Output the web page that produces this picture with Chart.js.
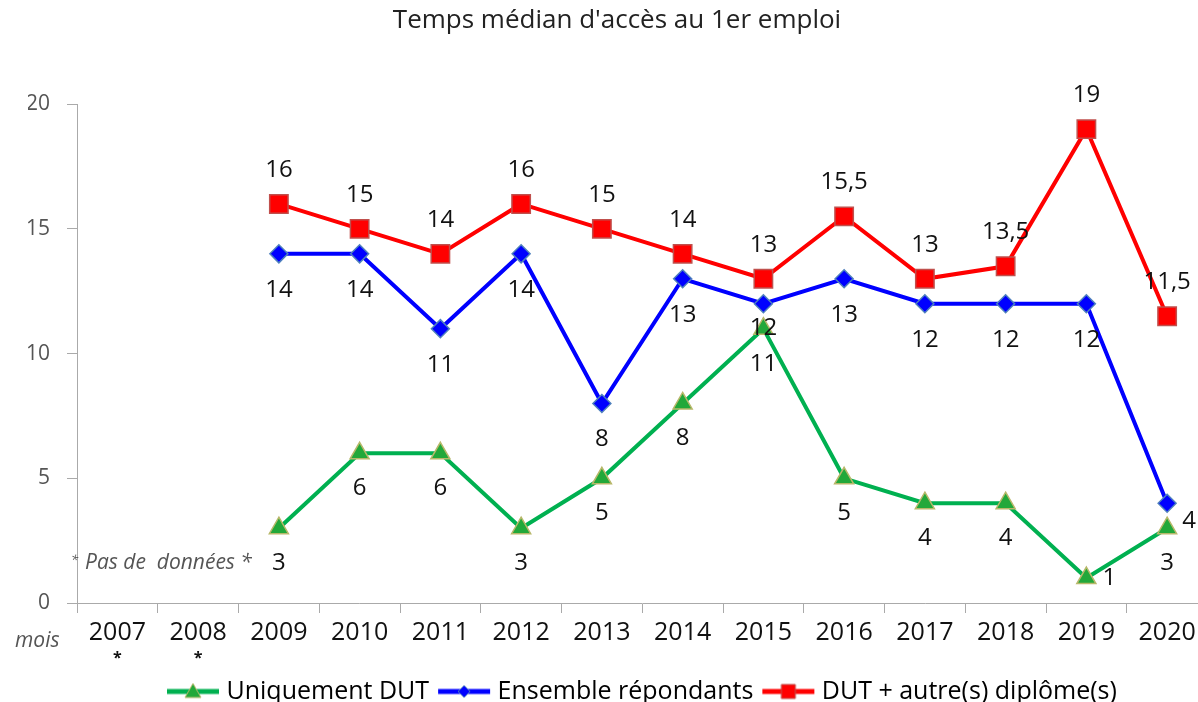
<!DOCTYPE html>
<html>
<head>
<meta charset="utf-8">
<script src="https://cdn.jsdelivr.net/npm/chart.js@4.4.0/dist/chart.umd.min.js"></script>
<style>
  html, body { margin: 0; padding: 0; background: #fff; overflow: hidden; }
  #wrap { width: 1198px; height: 702px; overflow: hidden; position: relative; }
  #chart { position: absolute; left: 0; top: 0; }
</style>
</head>
<body>
<div id="wrap"><canvas id="chart" width="1222" height="702"></canvas></div>
<script>
// data
const years = ['2007', '2008', '2009', '2010', '2011', '2012', '2013', '2014', '2015', '2016', '2017', '2018', '2019', '2020'];
const uniquementDut = [null, null, 3, 6, 6, 3, 5, 8, 11, 5, 4, 4, 1, 3];
const ensembleRepondants = [null, null, 14, 14, 11, 14, 8, 13, 12, 13, 12, 12, 12, 4];
const dutAutreDiplome = [null, null, 16, 15, 14, 16, 15, 14, 13, 15.5, 13, 13.5, 19, 11.5];
const noDataYears = ['2007', '2008'];
const yTicks = [0, 5, 10, 15, 20];

const FONT = "'Open Sans', 'DejaVu Sans', sans-serif";

// where each value label goes (offset from the point)
const labelOffsets = [
  { def: [0, 35], special: { 12: [23, 0] } },              // green
  { def: [0, 36], special: { 8: [0, 24], 13: [22, 18] } }, // blue
  { def: [0, -34], special: {} }                          // red
];

function fmt(v) {
  return String(v).replace('.', ',');
}

// little line+marker picture for the legend
function legendIcon(ds) {
  const c = document.createElement('canvas');
  c.width = 54; c.height = 22;
  const ctx = c.getContext('2d');
  ctx.strokeStyle = ds.borderColor;
  ctx.lineWidth = 5;
  ctx.beginPath();
  ctx.moveTo(1, 11); ctx.lineTo(53, 11);
  ctx.stroke();
  ctx.fillStyle = ds.pointBackgroundColor;
  ctx.strokeStyle = ds.pointBorderColor;
  ctx.lineWidth = 1;
  ctx.beginPath();
  if (ds.pointStyle === 'triangle') {
    ctx.moveTo(27, 3); ctx.lineTo(35, 17); ctx.lineTo(19, 17);
  } else if (ds.pointStyle === 'rectRot') {
    ctx.moveTo(27, 5); ctx.lineTo(33, 11); ctx.lineTo(27, 17); ctx.lineTo(21, 11);
  } else {
    ctx.rect(20, 4, 14, 14);
  }
  ctx.closePath();
  ctx.fill();
  ctx.stroke();
  return c;
}

const valueLabels = {
  id: 'valueLabels',
  afterDatasetsDraw(chart) {
    const ctx = chart.ctx;
    ctx.save();
    ctx.font = '24px ' + FONT;
    ctx.fillStyle = '#111';
    ctx.textAlign = 'center';
    ctx.textBaseline = 'middle';
    chart.data.datasets.forEach((ds, i) => {
      const meta = chart.getDatasetMeta(i);
      meta.data.forEach((pt, j) => {
        const v = ds.data[j];
        if (v === null || v === undefined) return;
        const off = labelOffsets[i].special[j] || labelOffsets[i].def;
        ctx.fillText(fmt(v), pt.x + off[0], pt.y + off[1]);
      });
    });
    ctx.restore();
  }
};

const extraText = {
  id: 'extraText',
  afterLayout(chart) {
    // legend sits a bit right of centre and lower in the original
    const lg = chart.legend;
    const shift = 165 - (lg.left + (lg.width - lg.lineWidths[0]) / 2);
    lg.left += shift;
    lg.right += shift;
    lg.top += 12;
    lg.bottom += 12;
    // title centred on the visible part
    chart.titleBlock.left -= 7;
    chart.titleBlock.right -= 7;
  },
  afterDraw(chart) {
    const ctx = chart.ctx;
    const x = chart.scales.x;
    ctx.save();
    ctx.fillStyle = '#555';
    ctx.textBaseline = 'middle';
    ctx.textAlign = 'left';
    ctx.font = 'italic 21px ' + FONT;
    ctx.fillText('mois', 15, 641);
    ctx.font = 'italic 13px ' + FONT;
    ctx.fillText('*', 71, 560);
    ctx.font = 'italic 21px ' + FONT;
    ctx.fillText('Pas de  données *', 85, 563);
    // stars under the years with no data
    ctx.fillStyle = '#111';
    ctx.textAlign = 'center';
    ctx.font = 'bold 16px ' + FONT;
    noDataYears.forEach(y => {
      ctx.fillText('*', x.getPixelForValue(years.indexOf(y)), x.top + 55);
    });
    ctx.restore();
  }
};

const datasets = [
  {
    label: 'Uniquement DUT',
    data: uniquementDut,
    borderColor: '#00b050',
    borderWidth: 4,
    pointStyle: 'triangle',
    pointRadius: 11,
    pointBackgroundColor: '#22a83a',
    pointBorderColor: '#b8b86a',
    pointBorderWidth: 1.5
  },
  {
    label: 'Ensemble répondants',
    data: ensembleRepondants,
    borderColor: '#0000ff',
    borderWidth: 4,
    pointStyle: 'rectRot',
    pointRadius: 9,
    pointBackgroundColor: '#0000ff',
    pointBorderColor: '#4f81bd',
    pointBorderWidth: 1.5
  },
  {
    label: 'DUT + autre(s) diplôme(s)',
    data: dutAutreDiplome,
    borderColor: '#ff0000',
    borderWidth: 4,
    pointStyle: 'rect',
    pointRadius: 13,
    pointBackgroundColor: '#ff0000',
    pointBorderColor: '#c0504d',
    pointBorderWidth: 1.5
  }
];

new Chart(document.getElementById('chart'), {
  type: 'line',
  data: { labels: years, datasets: datasets },
  plugins: [valueLabels, extraText],
  options: {
    responsive: false,
    animation: false,
    layout: { padding: { left: 28, right: 2, top: 0, bottom: 0 } },
    plugins: {
      tooltip: { enabled: false },
      title: {
        display: true,
        text: "Temps médian d'accès au 1er emploi",
        color: '#222',
        font: { family: FONT, size: 26, weight: 'normal' },
        padding: { top: 5, bottom: 68 }
      },
      legend: {
        position: 'bottom',
        labels: {
          usePointStyle: true,
          pointStyleWidth: 42,
          padding: 14,
          color: '#333',
          font: { family: FONT, size: 25 },
          generateLabels(chart) {
            return chart.data.datasets.map((ds, i) => ({
              text: ds.label,
              pointStyle: legendIcon(ds),
              fillStyle: ds.borderColor,
              strokeStyle: ds.borderColor,
              lineWidth: 0,
              hidden: false,
              datasetIndex: i
            }));
          }
        }
      }
    },
    scales: {
      x: {
        offset: true,
        grid: { offset: true, drawOnChartArea: false, tickLength: 10, color: '#aaa' },
        border: { color: '#aaa' },
        ticks: { color: '#111', font: { family: FONT, size: 25 }, padding: 5, maxRotation: 0, autoSkip: false },
        afterFit(scale) { scale.height = 50; }
      },
      y: {
        min: 0,
        max: 20,
        afterBuildTicks(scale) { scale.ticks = yTicks.map(v => ({ value: v })); },
        grid: { drawOnChartArea: false, tickLength: 10, color: '#aaa' },
        border: { color: '#aaa' },
        ticks: { color: '#555', font: { family: FONT, size: 21 }, padding: 17 },
        afterFit(scale) { scale.width = 49; }
      }
    }
  }
});
</script>
</body>
</html>
